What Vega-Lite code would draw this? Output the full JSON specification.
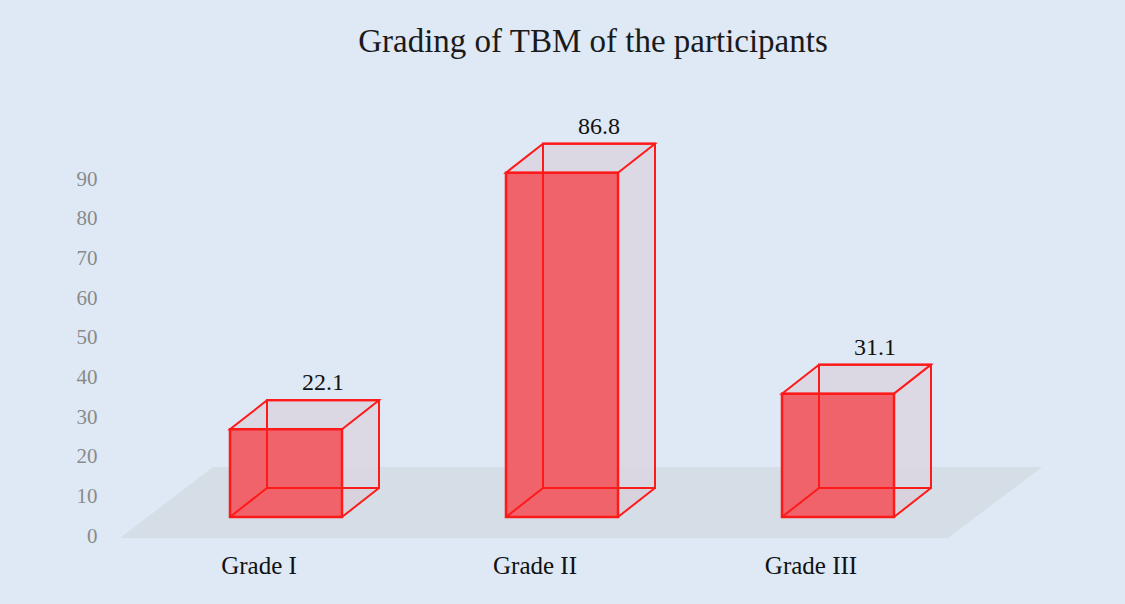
{
  "$schema": "https://vega.github.io/schema/vega-lite/v6.json",
  "width": 828,
  "height": 357,
  "padding": {"left": 148, "top": 160, "right": 149, "bottom": 87},
  "autosize": {"type": "none"},
  "background": "#dee9f5",
  "config": {"view": {"stroke": null}, "font": "Liberation Serif"},
  "title": {
    "text": "Grading of TBM of the participants",
    "font": "Liberation Serif",
    "fontSize": 33,
    "fontWeight": "normal",
    "color": "#1a1a1a",
    "anchor": "middle",
    "dx": 31,
    "offset": 56
  },
  "data": {
    "values": [
      {"grade": "Grade I", "value": 22.1},
      {"grade": "Grade II", "value": 86.8},
      {"grade": "Grade III", "value": 31.1}
    ]
  },
  "encoding": {
    "x": {
      "field": "grade",
      "type": "nominal",
      "sort": ["Grade I", "Grade II", "Grade III"],
      "scale": {"domain": ["Grade I", "Grade II", "Grade III"], "paddingInner": 0.594, "paddingOuter": 0.297},
      "axis": {
        "title": null,
        "labelAngle": 0,
        "domain": false,
        "ticks": false,
        "zindex": 1,
        "labelOffset": -27,
        "labelPadding": 36,
        "labelFont": "Liberation Serif",
        "labelFontSize": 25,
        "labelColor": "#111111"
      }
    },
    "y": {
      "field": "value",
      "type": "quantitative",
      "scale": {"domain": [0, 90], "nice": false, "zero": true},
      "axis": {
        "title": null,
        "values": [0, 10, 20, 30, 40, 50, 60, 70, 80, 90],
        "grid": false,
        "domain": false,
        "ticks": false,
        "zindex": 1,
        "labelOffset": 19,
        "labelPadding": 51,
        "labelOverlap": false,
        "labelFlush": false,
        "labelFont": "Liberation Serif",
        "labelFontSize": 21,
        "labelColor": "#8a8a8a"
      }
    }
  },
  "layer": [
    {
      "transform": [{"filter": "datum.grade === 'Grade II'"}],
      "mark": {
        "type": "point",
        "shape": "M-442,21 L386,21 L480,-50 L-349,-50 Z",
        "size": 4,
        "filled": true,
        "fill": "#d5dde7",
        "opacity": 1,
        "strokeWidth": 0
      },
      "encoding": {"y": {"datum": 0}}
    },
    {
      "mark": {
        "type": "bar",
        "width": 112,
        "xOffset": 37,
        "yOffset": -29,
        "y2Offset": -29,
        "fill": "#dcd6e1",
        "fillOpacity": 0.85,
        "stroke": "#ff1a1a",
        "strokeWidth": 2
      }
    },
    {
      "mark": {
        "type": "point",
        "shape": "M-56,0 L56,0 L93,-29 L-19,-29 Z",
        "size": 4,
        "filled": true,
        "fill": "#dcd8e3",
        "opacity": 1,
        "stroke": "#ff1a1a",
        "strokeWidth": 2
      }
    },
    {
      "mark": {
        "type": "point",
        "shape": "M56,0 L93,-29 L56,-29 Z",
        "size": 4,
        "filled": true,
        "fill": "#d8d2dc",
        "opacity": 1,
        "strokeWidth": 0
      },
      "encoding": {"y": {"datum": 0}}
    },
    {
      "mark": {
        "type": "bar",
        "width": 112,
        "fill": "#f0636b",
        "stroke": "#ff1a1a",
        "strokeWidth": 2.5
      }
    },
    {
      "mark": {
        "type": "bar",
        "width": 112,
        "xOffset": 37,
        "yOffset": -29,
        "y2Offset": -29,
        "fill": "#ffffff",
        "fillOpacity": 0,
        "stroke": "#ff1a1a",
        "strokeWidth": 2
      }
    },
    {
      "mark": {
        "type": "point",
        "shape": "M-56,0 L-19,-29 M56,0 L93,-29",
        "size": 4,
        "filled": false,
        "opacity": 1,
        "stroke": "#ff1a1a",
        "strokeWidth": 2
      },
      "encoding": {"y": {"datum": 0}}
    },
    {
      "mark": {
        "type": "text",
        "xOffset": 37,
        "yOffset": -34,
        "baseline": "bottom",
        "align": "center",
        "font": "Liberation Serif",
        "fontSize": 24,
        "color": "#111111"
      },
      "encoding": {"text": {"field": "value", "type": "quantitative", "format": ".1f"}}
    }
  ]
}
